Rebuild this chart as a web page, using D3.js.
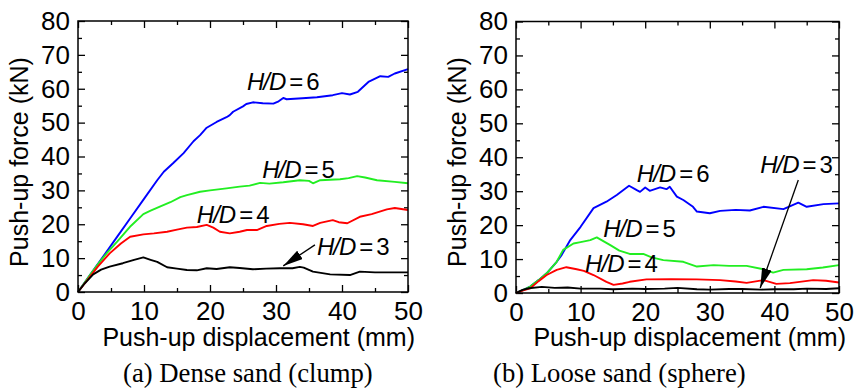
<!DOCTYPE html>
<html>
<head>
<meta charset="utf-8">
<script src="https://cdn.jsdelivr.net/npm/d3@7"></script>
<style>
body { margin: 0; background: #fff; }
svg { display: block; }
</style>
</head>
<body>
<svg></svg>
<script>
// Push-up force vs displacement, two panels

let svgWidth = 856;
let svgHeight = 392;

// [displacement (mm), force (kN)]
let dense6 = [[0,0],[2,5.5],[4,11],[6,16.5],[8,22],[10,27.5],[12,33],[13,35.5],[14.4,38],[16,41],[17.5,44.5],[18.5,46.3],[19.5,48.5],[21,50.2],[22.5,51.6],[23,52.2],[23.5,53.2],[25,54.8],[25.5,55.5],[26.5,56],[28,55.7],[29.6,55.6],[30.4,56.3],[31.1,57.3],[31.6,56.9],[34,57.2],[36.2,57.5],[38.6,58.1],[40,58.7],[41.2,58.3],[42.4,59.1],[44,62],[45.8,63.7],[47,63.5],[48,64.5],[50,65.8]];
let dense5 = [[0,0],[2,5.5],[3.3,8.9],[4.5,11.8],[6,15],[8,19.5],[9.9,23],[11,24],[12.4,25.2],[14,26.5],[15.5,28],[16.5,28.6],[18.5,29.6],[20,30],[22.5,30.6],[24.5,31.1],[26,31.4],[27.6,32.2],[29,32],[31.1,32.4],[33.6,33],[35,32.8],[35.6,32.1],[36.7,33],[39.7,33.3],[41,33.6],[42.3,34.2],[43.5,33.8],[45.3,33],[48,32.5],[50,32.1]];
let dense4 = [[0,0],[2,5],[3,7.5],[4.8,11.4],[6.5,14.3],[7.9,16.3],[9.9,17],[11.5,17.3],[13.5,17.8],[15,18.4],[16.5,19],[18,19.2],[19.5,19.8],[20.5,19],[21.5,17.8],[23,17.3],[24.5,17.8],[25.6,18.3],[27.1,18.3],[28.6,19.5],[30.5,20.1],[32.1,20.4],[34.1,20],[35.6,19.5],[36.7,20.4],[38.6,21.2],[39.5,20.6],[40.8,20.3],[42.7,22.2],[44.5,23],[46.8,24.4],[48,24.8],[50,24.2]];
let dense3 = [[0,0],[1,2.5],[2.3,5.2],[3.5,6.6],[4.8,7.5],[6.8,8.5],[8.5,9.5],[9.9,10.2],[11,9.5],[12,8.9],[13.5,7.3],[15,6.9],[16.5,6.5],[18,6.4],[19.5,7],[21,6.8],[23,7.3],[24.5,7.1],[26.5,6.7],[28.5,6.9],[30.6,7],[32.5,7],[33.6,7.4],[34.2,7.2],[35.6,6],[38.2,5.2],[41.2,5],[42.7,6],[45,5.8],[50,5.8]];

let loose6 = [[0,0],[1,0.8],[2.2,1.9],[3.5,3.8],[4.75,5.8],[6.3,9.2],[7,11],[8.4,15.6],[10,19.5],[12,25],[14,26.9],[15.6,28.9],[17.5,31.6],[18.7,30.3],[19.2,29.8],[20,31.1],[20.7,30.1],[22.3,31.1],[23.3,30.6],[23.8,31.3],[24.9,28.4],[25.9,27.4],[27.4,25.4],[28,24],[30,23.5],[31.6,24.2],[34,24.5],[36.2,24.3],[38.3,25.4],[41.4,24.7],[43.7,26.6],[45,25.4],[47.6,26.2],[50,26.4]];
let loose5 = [[0,0],[1,0.8],[2.2,1.9],[3.5,3.8],[4.75,5.8],[6.3,9.2],[7.3,12.7],[8.9,14.6],[10,15],[11.5,15.6],[12.5,16.4],[14.6,14.1],[16,12.5],[17.6,11.5],[19.7,11.5],[21,10.5],[22.8,9.7],[25.9,9.2],[28,7.8],[30.6,8.2],[33,8],[35.7,8],[38.3,7],[39.8,6],[41.4,6.8],[45,7],[47.5,7.5],[50,8.2]];
let loose4 = [[0,0],[1,0.7],[2.2,1.4],[3.5,3.5],[4.75,5.3],[6.3,6.8],[7.8,7.6],[9.4,7],[10.5,6.5],[12,5.3],[14,3.3],[15.1,2.4],[16.5,2.8],[17.6,3.3],[20.2,4],[24,4.1],[28,4],[31.6,3.8],[34,3.4],[35.7,3],[38.3,3.8],[40.3,2.7],[42.4,2.9],[46,3.8],[48,3.6],[50,3.1]];
let loose3 = [[0,0],[1,0.9],[2,1.4],[4,1.8],[6,1.5],[8,1.6],[10,1.3],[13,1.3],[15,1.1],[18,1.3],[20,1.2],[23,1.3],[25,1.5],[28,1.1],[30,1],[33,1.2],[35,1.2],[38,1],[40,1.1],[43,1.1],[45,1.3],[48,1.2],[50,1.4]];

let xTicks = [0, 10, 20, 30, 40, 50];
let yTicks = [0, 10, 20, 30, 40, 50, 60, 70, 80];
let xMinor = [5, 15, 25, 35, 45];
let yMinor = [5, 15, 25, 35, 45, 55, 65, 75];

let seriesColors = ["#0000ff", "#22ee22", "#ff0000", "#000000"];
let captions = ["(a) Dense sand (clump)", "(b) Loose sand (sphere)"];

// label text, anchor [x, y] in data units
let denseLabels = [["6", 25.6, 59.6], ["5", 27.9, 33.6], ["4", 18.0, 20.4], ["3", 36.2, 10.9]];
let looseLabels = [["6", 18.7, 32.7], ["5", 13.5, 16.5], ["4", 10.7, 6.3], ["3", 37.8, 35.4]];
// arrow [x1, y1, x2, y2] in data units
let denseArrow = [35.9, 13.9, 31.1, 7.7];
let looseArrow = [43.7, 33.3, 37.8, 1.5];

let panels = [
	{ left: 78, right: 408, top: 21, bottom: 292, series: [dense6, dense5, dense4, dense3], labels: denseLabels, arrow: denseArrow, capX: 123 },
	{ left: 516, right: 839, top: 21.5, bottom: 293, series: [loose6, loose5, loose4, loose3], labels: looseLabels, arrow: looseArrow, capX: 493 }
];

let svg = d3.select('svg')
	.attr("width", svgWidth)
	.attr("height", svgHeight);

svg.append("defs").append("marker")
	.attr("id", "head")
	.attr("markerUnits", "userSpaceOnUse")
	.attr("viewBox", "0 0 20 10")
	.attr("refX", 20)
	.attr("refY", 5)
	.attr("markerWidth", 20)
	.attr("markerHeight", 10)
	.attr("orient", "auto")
	.append("path")
	.attr("d", "M0,0L20,5L0,10Z")
	.attr("fill", "#000");

panels.forEach(function (p, k) {
	let x = d3.scaleLinear().domain([0, 50]).range([p.left, p.right]);
	let y = d3.scaleLinear().domain([0, 80]).range([p.bottom, p.top]);
	let g = svg.append("g");

	// inward ticks on all four sides
	let bottomMajor = d3.axisBottom(x).tickValues(xTicks).tickSizeInner(-7).tickSizeOuter(0).tickPadding(10);
	let leftMajor = d3.axisLeft(y).tickValues(yTicks).tickSizeInner(-7).tickSizeOuter(0).tickPadding(8);

	let gb = g.append("g").attr("transform", "translate(0," + p.bottom + ")").call(bottomMajor);
	let gl = g.append("g").attr("transform", "translate(" + p.left + ",0)").call(leftMajor);
	[gb, gl].forEach(function (a) {
		a.selectAll("text")
			.attr("fill", "#000")
			.style("font-family", "'Liberation Sans', Arial, sans-serif")
			.style("font-size", "26px");
	});

	g.append("g").attr("transform", "translate(0," + p.bottom + ")")
		.call(d3.axisBottom(x).tickValues(xMinor).tickSizeInner(-4).tickSizeOuter(0).tickFormat(""));
	g.append("g").attr("transform", "translate(" + p.left + ",0)")
		.call(d3.axisLeft(y).tickValues(yMinor).tickSizeInner(-4).tickSizeOuter(0).tickFormat(""));
	g.append("g").attr("transform", "translate(0," + p.top + ")")
		.call(d3.axisTop(x).tickValues(xTicks).tickSizeInner(-7).tickSizeOuter(0).tickFormat(""));
	g.append("g").attr("transform", "translate(0," + p.top + ")")
		.call(d3.axisTop(x).tickValues(xMinor).tickSizeInner(-4).tickSizeOuter(0).tickFormat(""));
	g.append("g").attr("transform", "translate(" + p.right + ",0)")
		.call(d3.axisRight(y).tickValues(yTicks).tickSizeInner(-7).tickSizeOuter(0).tickFormat(""));
	g.append("g").attr("transform", "translate(" + p.right + ",0)")
		.call(d3.axisRight(y).tickValues(yMinor).tickSizeInner(-4).tickSizeOuter(0).tickFormat(""));

	g.selectAll(".domain").remove();
	g.selectAll(".tick line").attr("stroke", "#000").attr("stroke-width", 1.3);

	let line = d3.line()
		.x(function (d) { return x(d[0]); })
		.y(function (d) { return y(d[1]); });

	g.selectAll(".curve")
		.data(p.series)
		.enter()
		.append("path")
		.attr("class", "curve")
		.attr("d", line)
		.attr("fill", "none")
		.attr("stroke", function (d, i) { return seriesColors[i]; })
		.attr("stroke-width", 1.9)
		.attr("stroke-linejoin", "round");

	g.append("rect")
		.attr("x", p.left)
		.attr("y", p.top)
		.attr("width", p.right - p.left)
		.attr("height", p.bottom - p.top)
		.attr("fill", "none")
		.attr("stroke", "#000")
		.attr("stroke-width", 1.5);

	// H/D labels
	let lab = g.selectAll(".hd")
		.data(p.labels)
		.enter()
		.append("text")
		.attr("class", "hd")
		.attr("x", function (d) { return x(d[1]); })
		.attr("y", function (d) { return y(d[2]); })
		.style("font-family", "'Liberation Sans', Arial, sans-serif")
		.style("font-size", "24px");
	lab.append("tspan").style("font-style", "italic").text("H");
	lab.append("tspan").style("font-style", "italic").attr("dx", -1).text("/");
	lab.append("tspan").style("font-style", "italic").attr("dx", -1).text("D");
	lab.append("tspan").attr("dx", 3).text("=");
	lab.append("tspan").attr("dx", 3).text(function (d) { return d[0]; });

	g.append("line")
		.attr("x1", x(p.arrow[0]))
		.attr("y1", y(p.arrow[1]))
		.attr("x2", x(p.arrow[2]))
		.attr("y2", y(p.arrow[3]))
		.attr("stroke", "#000")
		.attr("stroke-width", 1.3)
		.attr("marker-end", "url(#head)");

	// axis titles
	g.append("text")
		.attr("x", p.right + 7)
		.attr("y", 346)
		.attr("text-anchor", "end")
		.style("font-family", "'Liberation Sans', Arial, sans-serif")
		.style("font-size", "25px")
		.text("Push-up displacement (mm)");

	g.append("text")
		.attr("transform", "translate(" + (p.left - 50) + ",162) rotate(-90)")
		.attr("text-anchor", "middle")
		.style("font-family", "'Liberation Sans', Arial, sans-serif")
		.style("font-size", "25px")
		.text("Push-up force (kN)");

	g.append("text")
		.attr("x", p.capX)
		.attr("y", 382)
		.style("font-family", "'Liberation Serif', 'Times New Roman', serif")
		.style("font-size", "26.7px")
		.text(captions[k]);
});
</script>
</body>
</html>
